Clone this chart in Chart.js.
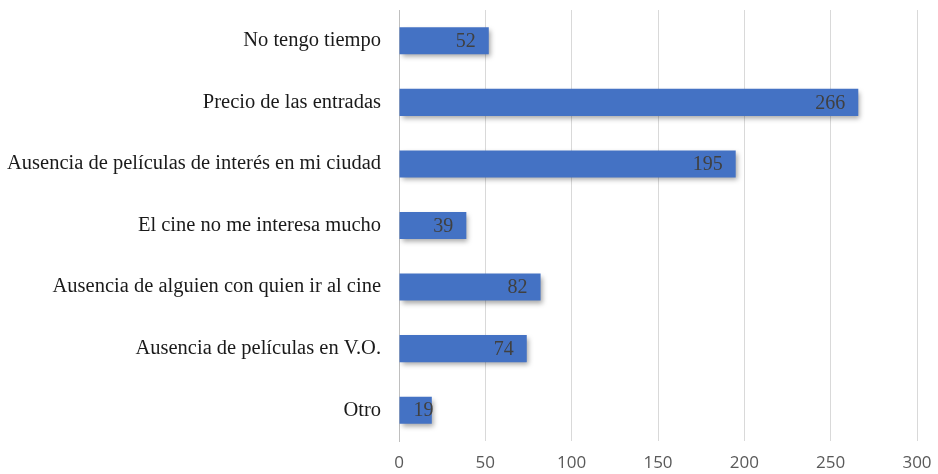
<!DOCTYPE html>
<html lang="es">
<head>
<meta charset="utf-8">
<title>Motivos para no ir al cine</title>
<script src="https://cdn.jsdelivr.net/npm/chart.js@4/dist/chart.umd.min.js"></script>
<style>
  html, body { margin: 0; padding: 0; background: #fff; }
  #wrap { width: 938px; height: 474px; position: relative; }
</style>
</head>
<body>
<div id="wrap"><canvas id="motivos"></canvas></div>
<script>
const categories = [
  'No tengo tiempo',
  'Precio de las entradas',
  'Ausencia de películas de interés en mi ciudad',
  'El cine no me interesa mucho',
  'Ausencia de alguien con quien ir al cine',
  'Ausencia de películas en V.O.',
  'Otro',
]
const respuestas = [52, 266, 195, 39, 82, 74, 19]
const xTicks = [0, 50, 100, 150, 200, 250, 300]

// vertical gradient across each bar, lighter on top
function barFill(context) {
  const el = context.element
  const { ctx } = context.chart
  if (!el || el.y == null || el.height == null) return '#4472C4'
  const top = el.y - el.height / 2
  const g = ctx.createLinearGradient(0, top, 0, top + el.height)
  g.addColorStop(0, '#6190E0')
  g.addColorStop(0.45, '#4A7AD2')
  g.addColorStop(1, '#3564C2')
  return g
}

const barShadow = {
  id: 'barShadow',
  beforeDatasetDraw(chart) {
    const ctx = chart.ctx
    ctx.save()
    ctx.shadowColor = 'rgba(0, 0, 0, 0.35)'
    ctx.shadowBlur = 5
    ctx.shadowOffsetX = 2
    ctx.shadowOffsetY = 3
  },
  afterDatasetDraw(chart) {
    chart.ctx.restore()
  },
}

// value written inside the end of each bar
const valueLabels = {
  id: 'valueLabels',
  afterDatasetsDraw(chart) {
    const ctx = chart.ctx
    const meta = chart.getDatasetMeta(0)
    ctx.save()
    ctx.font = '20px "Liberation Serif", "Times New Roman", serif'
    ctx.fillStyle = '#404040'
    ctx.textAlign = 'right'
    ctx.textBaseline = 'middle'
    meta.data.forEach((bar, i) => {
      const v = chart.data.datasets[0].data[i]
      const w = ctx.measureText(String(v)).width
      const x = Math.max(bar.x - 13, bar.base + w + 14)
      ctx.fillText(String(v), x, bar.y + 1)
    })
    ctx.restore()
  },
}

new Chart(document.getElementById('motivos'), {
  type: 'bar',
  data: {
    labels: categories,
    datasets: [{
      data: respuestas,
      backgroundColor: barFill,
      borderWidth: 0,
      barPercentage: 0.88,
      categoryPercentage: 0.5,
    }],
  },
  plugins: [barShadow, valueLabels],
  options: {
    indexAxis: 'y',
    responsive: true,
    maintainAspectRatio: false,
    animation: false,
    layout: { padding: { top: 10, right: 21, left: 0, bottom: 0 } },
    plugins: {
      legend: { display: false },
      tooltip: { enabled: false },
    },
    scales: {
      x: {
        min: 0,
        max: 300,
        afterBuildTicks(axis) {
          axis.ticks = xTicks.map(v => ({ value: v }))
        },
        afterFit(scale) {
          scale.height = 33
          scale.paddingLeft = 0
          scale.paddingRight = 0
        },
        grid: { color: '#D9D9D9', lineWidth: 1, drawTicks: false },
        border: { display: false },
        ticks: {
          padding: 12,
          color: '#595959',
          font: { family: '"Open Sans", "Liberation Sans", sans-serif', size: 17 },
        },
      },
      y: {
        afterFit(scale) {
          scale.width = 399
          scale.paddingTop = 0
          scale.paddingBottom = 0
        },
        grid: { display: false, drawTicks: false },
        border: { display: true, color: '#BFBFBF', width: 1 },
        ticks: {
          padding: 18,
          color: '#1a1a1a',
          font: { family: '"Liberation Serif", "Times New Roman", serif', size: 20.5 },
        },
      },
    },
  },
})
</script>
</body>
</html>
